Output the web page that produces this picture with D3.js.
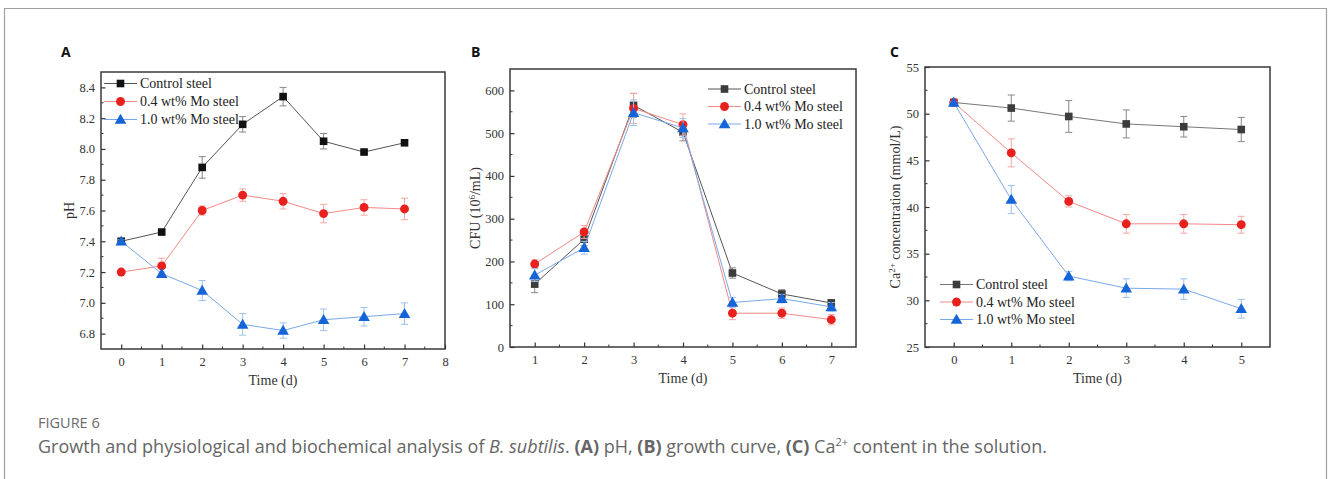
<!DOCTYPE html>
<html>
<head>
<meta charset="utf-8">
<script src="https://cdn.jsdelivr.net/npm/d3@7"></script>
<style>
body { margin: 0; background: #fff; }
svg text { font-family: "Liberation Serif", "DejaVu Serif", serif; }
</style>
</head>
<body>
<svg id="fig" width="1328" height="479"></svg>
<script>
var seriesNames = ["Control steel", "0.4 wt% Mo steel", "1.0 wt% Mo steel"];

// panel A: pH
var daysA = [0, 1, 2, 3, 4, 5, 6, 7];
var phControl = [7.40, 7.46, 7.88, 8.16, 8.34, 8.05, 7.98, 8.04];
var phControlErr = [0.01, 0.01, 0.07, 0.05, 0.06, 0.05, 0.01, 0.01];
var phMo04 = [7.20, 7.24, 7.60, 7.70, 7.66, 7.58, 7.62, 7.61];
var phMo04Err = [0.01, 0.05, 0.03, 0.04, 0.05, 0.06, 0.05, 0.07];
var phMo10 = [7.40, 7.19, 7.08, 6.86, 6.82, 6.89, 6.91, 6.93];
var phMo10Err = [0.01, 0.01, 0.065, 0.07, 0.05, 0.07, 0.06, 0.07];
var ticksA_x = [0, 1, 2, 3, 4, 5, 6, 7, 8];
var ticksA_y = [6.8, 7.0, 7.2, 7.4, 7.6, 7.8, 8.0, 8.2, 8.4];

// panel B: CFU
var daysB = [1, 2, 3, 4, 5, 6, 7];
var cfuControl = [147, 252, 565, 502, 173, 124, 103];
var cfuControlErr = [20, 15, 28, 20, 12, 10, 8];
var cfuMo04 = [194, 269, 558, 520, 79, 79, 64];
var cfuMo04Err = [10, 15, 35, 25, 15, 12, 12];
var cfuMo10 = [168, 232, 548, 512, 104, 113, 94];
var cfuMo10Err = [15, 15, 30, 22, 12, 10, 10];
var ticksB_x = [1, 2, 3, 4, 5, 6, 7];
var ticksB_y = [0, 100, 200, 300, 400, 500, 600];

// panel C: Ca2+
var daysC = [0, 1, 2, 3, 4, 5];
var caControl = [51.2, 50.6, 49.7, 48.9, 48.6, 48.3];
var caControlErr = [0.1, 1.4, 1.7, 1.5, 1.1, 1.3];
var caMo04 = [51.2, 45.8, 40.6, 38.2, 38.2, 38.1];
var caMo04Err = [0.1, 1.5, 0.6, 1.0, 1.0, 0.9];
var caMo10 = [51.2, 40.8, 32.6, 31.3, 31.2, 29.1];
var caMo10Err = [0.1, 1.5, 0.5, 1.0, 1.1, 1.0];
var ticksC_x = [0, 1, 2, 3, 4, 5];
var ticksC_y = [25, 30, 35, 40, 45, 50, 55];

var svg = d3.select("#fig");

// outer frame
svg.append("path").attr("d", "M4.5,479 V8.5 H1326.5 V479")
    .attr("fill", "none").attr("stroke", "#a0a0a0").attr("stroke-width", 1.2);

var markerColor = ["#111", "#e8201e", "#1565d8"];
var lineColor = ["#555", "#f08a86", "#7aa8e8"];
var errColor = ["#888", "#f4a8a4", "#9cc0ee"];

function drawPanel(p) {
    var x = d3.scaleLinear().domain(p.xdom).range([p.left, p.right]);
    var y = d3.scaleLinear().domain(p.ydom).range([p.bottom, p.top]);
    var g = svg.append("g");

    // minor ticks
    g.selectAll(".mx").data(p.xminor).enter().append("line")
        .attr("x1", d => x(d)).attr("x2", d => x(d))
        .attr("y1", p.bottom).attr("y2", p.bottom - 2.5)
        .attr("stroke", "#333").attr("stroke-width", 1);
    g.selectAll(".my").data(p.yminor).enter().append("line")
        .attr("y1", d => y(d)).attr("y2", d => y(d))
        .attr("x1", p.left).attr("x2", p.left + 2.5)
        .attr("stroke", "#333").attr("stroke-width", 1);

    var xAxis = d3.axisBottom(x).tickValues(p.xticks).tickSizeInner(-4.5).tickSizeOuter(0).tickPadding(8)
        .tickFormat(d3.format("d"));
    var yAxis = d3.axisLeft(y).tickValues(p.yticks).tickSizeInner(-4.5).tickSizeOuter(0).tickPadding(6)
        .tickFormat(p.yfmt);
    var gx = g.append("g").attr("transform", "translate(0," + p.bottom + ")").call(xAxis);
    var gy = g.append("g").attr("transform", "translate(" + p.left + ",0)").call(yAxis);
    [gx, gy].forEach(function(a) {
        a.select(".domain").remove();
        a.selectAll(".tick line").attr("stroke", "#333").attr("stroke-width", 1.2);
        a.selectAll(".tick text").attr("fill", "#333").style("font-size", "12.5px")
            .style("font-family", "Liberation Serif, serif");
    });
    gx.selectAll(".tick text").attr("dy", "0.71em");

    // frame
    g.append("rect").attr("x", p.left).attr("y", p.top)
        .attr("width", p.right - p.left).attr("height", p.bottom - p.top)
        .attr("fill", "none").attr("stroke", "#3a3a3a").attr("stroke-width", 1.5);

    // axis titles
    g.append("text").attr("x", (p.left + p.right) / 2).attr("y", p.bottom + 36)
        .attr("text-anchor", "middle").attr("fill", "#333").style("font-size", "14px").text("Time (d)");
    var yt = g.append("text").attr("transform", "translate(" + p.ylabX + "," + ((p.top + p.bottom) / 2) + ") rotate(-90)")
        .attr("text-anchor", "middle").attr("fill", "#333").style("font-size", "14px");
    p.ylab.forEach(function(part) {
        var t = yt.append("tspan").text(part.t);
        if (part.sup) t.attr("baseline-shift", "super").style("font-size", "9px");
    });

    // panel letter
    svg.append("text").attr("x", p.letterX).attr("y", p.letterY)
        .style("font-family", "Open Sans, Liberation Sans, sans-serif").style("font-weight", "bold")
        .style("font-size", "14px").attr("fill", "#111").text(p.letter);

    var line = d3.line().x(d => x(d[0])).y(d => y(d[1]));
    var sym = [d3.symbolSquare, d3.symbolCircle, d3.symbolTriangle];
    var symSize = [58, 62, 58];

    p.series.forEach(function(s, i) {
        var pts = p.days.map((d, k) => [d, s.v[k], s.e[k]]);
        g.append("path").datum(pts).attr("d", line).attr("fill", "none")
            .attr("stroke", p.lineCols[i]).attr("stroke-width", 1);
        var eb = g.selectAll(".eb" + i).data(pts).enter().append("g");
        eb.append("line").attr("x1", d => x(d[0])).attr("x2", d => x(d[0]))
            .attr("y1", d => y(d[1] - d[2])).attr("y2", d => y(d[1] + d[2]))
            .attr("stroke", errColor[i]).attr("stroke-width", 1);
        [-1, 1].forEach(function(sg) {
            eb.append("line").attr("x1", d => x(d[0]) - 3.5).attr("x2", d => x(d[0]) + 3.5)
                .attr("y1", d => y(d[1] + sg * d[2])).attr("y2", d => y(d[1] + sg * d[2]))
                .attr("stroke", errColor[i]).attr("stroke-width", 1);
        });
        g.selectAll(".mk" + i).data(pts).enter().append("path")
            .attr("d", d3.symbol().type(sym[i]).size(symSize[i]))
            .attr("transform", d => "translate(" + x(d[0]) + "," + (y(d[1]) + (i == 2 ? 1 : 0)) + ")")
            .attr("fill", p.markCols[i]);
    });

    // legend
    seriesNames.forEach(function(n, i) {
        var ly = p.legY + i * p.legStep;
        g.append("line").attr("x1", p.legX).attr("x2", p.legX + 33).attr("y1", ly).attr("y2", ly)
            .attr("stroke", p.lineCols[i]).attr("stroke-width", 1);
        g.append("path").attr("d", d3.symbol().type(sym[i]).size(symSize[i]))
            .attr("transform", "translate(" + (p.legX + 16.5) + "," + (ly + (i == 2 ? 1 : 0)) + ")")
            .attr("fill", p.markCols[i]);
        g.append("text").attr("x", p.legX + 36).attr("y", ly).attr("dy", "0.35em")
            .attr("fill", "#222").style("font-size", "14px").text(n);
    });
}

drawPanel({
    letter: "A", letterX: 61, letterY: 57,
    left: 101, right: 445, top: 72, bottom: 349,
    xdom: [-0.5, 8], ydom: [6.7, 8.5],
    xticks: ticksA_x, yticks: ticksA_y, yfmt: d3.format(".1f"),
    xminor: [0.5, 1.5, 2.5, 3.5, 4.5, 5.5, 6.5, 7.5],
    yminor: [6.9, 7.1, 7.3, 7.5, 7.7, 7.9, 8.1, 8.3],
    ylab: [{t: "pH"}], ylabX: 74,
    days: daysA,
    series: [{v: phControl, e: phControlErr}, {v: phMo04, e: phMo04Err}, {v: phMo10, e: phMo10Err}],
    markCols: markerColor, lineCols: lineColor,
    legX: 104, legY: 83.5, legStep: 18
});

drawPanel({
    letter: "B", letterX: 471, letterY: 57,
    left: 510, right: 856, top: 69, bottom: 347,
    xdom: [0.5, 7.5], ydom: [0, 650],
    xticks: ticksB_x, yticks: ticksB_y, yfmt: d3.format("d"),
    xminor: [1.5, 2.5, 3.5, 4.5, 5.5, 6.5],
    yminor: [50, 150, 250, 350, 450, 550],
    ylab: [{t: "CFU (10"}, {t: "6", sup: true}, {t: "/mL)"}], ylabX: 480,
    days: daysB,
    series: [{v: cfuControl, e: cfuControlErr}, {v: cfuMo04, e: cfuMo04Err}, {v: cfuMo10, e: cfuMo10Err}],
    markCols: ["#3c3c3c", "#e8201e", "#1565d8"], lineCols: lineColor,
    legX: 708, legY: 89, legStep: 17.5
});

drawPanel({
    letter: "C", letterX: 890, letterY: 57,
    left: 925, right: 1270, top: 67, bottom: 347,
    xdom: [-0.5, 5.5], ydom: [25, 55],
    xticks: ticksC_x, yticks: ticksC_y, yfmt: d3.format("d"),
    xminor: [0.5, 1.5, 2.5, 3.5, 4.5],
    yminor: [27.5, 32.5, 37.5, 42.5, 47.5, 52.5],
    ylab: [{t: "Ca"}, {t: "2+", sup: true}, {t: " concentration (mmol/L)"}], ylabX: 900,
    days: daysC,
    series: [{v: caControl, e: caControlErr}, {v: caMo04, e: caMo04Err}, {v: caMo10, e: caMo10Err}],
    markCols: ["#3c3c3c", "#e8201e", "#1565d8"], lineCols: ["#777", "#f08a86", "#7aa8e8"],
    legX: 940, legY: 284.5, legStep: 17.5
});

// caption
svg.append("text").attr("x", 38).attr("y", 428)
    .style("font-family", "Open Sans, sans-serif").style("font-size", "14.5px").attr("fill", "#6a6a6a")
    .text("FIGURE 6");
var cap = svg.append("text").attr("x", 38).attr("y", 453)
    .style("font-family", "Open Sans, sans-serif").style("font-size", "18px").attr("fill", "#666");
cap.append("tspan").text("Growth and physiological and biochemical analysis of ");
cap.append("tspan").style("font-style", "italic").text("B. subtilis");
cap.append("tspan").text(". ");
cap.append("tspan").style("font-weight", "bold").text("(A)");
cap.append("tspan").text(" pH, ");
cap.append("tspan").style("font-weight", "bold").text("(B)");
cap.append("tspan").text(" growth curve, ");
cap.append("tspan").style("font-weight", "bold").text("(C)");
cap.append("tspan").text(" Ca");
cap.append("tspan").attr("baseline-shift", "super").style("font-size", "11px").text("2+");
cap.append("tspan").text(" content in the solution.");
</script>
</body>
</html>
